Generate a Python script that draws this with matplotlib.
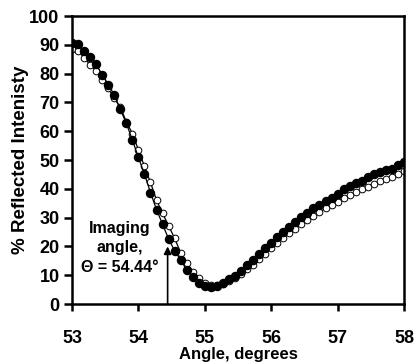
import numpy as np
import matplotlib
matplotlib.use("Agg")
import matplotlib.pyplot as plt

plt.rcParams['font.family'] = ['Liberation Sans', 'DejaVu Sans']
plt.rcParams['font.weight'] = 'bold'

# Data (56 points, 53 to 58 degrees)
angle_start = 53.0
angle_end = 58.0
filled_vals = [90.5, 90.2, 88.0, 85.9, 83.3, 79.5, 76.2, 72.6, 67.6, 62.7,
               57.0, 50.9, 45.1, 38.7, 32.8, 27.7, 22.6, 18.5, 15.3, 11.8,
               9.5, 7.2, 6.2, 5.8, 6.2, 7.2, 8.6, 9.7, 11.6, 13.4,
               15.3, 17.4, 19.3, 21.3, 23.4, 25.1, 26.8, 28.6, 30.3, 31.7,
               33.2, 34.4, 35.6, 36.7, 38.2, 40.0, 41.0, 41.9, 42.7, 44.0,
               45.3, 46.0, 46.5, 47.0, 48.4, 49.4]
open_vals = [88.6, 87.8, 85.5, 83.0, 80.8, 77.8, 75.0, 71.4, 68.3, 63.3,
             59.2, 53.5, 47.8, 42.2, 36.1, 31.5, 27.2, 22.8, 17.8, 14.3,
             11.2, 8.9, 7.4, 6.6, 6.5, 7.0, 8.0, 8.9, 10.4, 12.0,
             13.7, 15.6, 17.4, 19.3, 21.3, 22.9, 24.5, 26.2, 27.8, 29.2,
             30.6, 31.9, 33.2, 34.4, 35.5, 36.8, 37.9, 38.9, 39.8, 40.8,
             41.8, 42.6, 43.4, 44.2, 45.1, 46.1]
angles = np.linspace(angle_start, angle_end, len(filled_vals))

imaging_angle = 54.44
arrow_top = 20.0
annot_text = "Imaging\nangle,\n\u0398 = 54.44\u00b0"

x_ticks = [53, 54, 55, 56, 57, 58]
y_ticks = [0, 10, 20, 30, 40, 50, 60, 70, 80, 90, 100]

fig = plt.figure(figsize=(4.17, 3.62), dpi=100)
ax = fig.add_axes([0.1727, 0.1602, 0.7961, 0.7956])

ax.plot(angles, open_vals, '-', color='black', lw=0.9,
        marker='o', markersize=4.8, markerfacecolor='white',
        markeredgecolor='black', markeredgewidth=0.7, zorder=2)
ax.plot(angles, filled_vals, '-', color='black', lw=0.9,
        marker='o', markersize=5.8, markerfacecolor='black',
        markeredgecolor='black', zorder=3)

ax.annotate('', xy=(imaging_angle, arrow_top), xytext=(imaging_angle, 0),
            arrowprops=dict(arrowstyle='-|>', lw=1.2, color='black',
                            mutation_scale=11, shrinkA=0, shrinkB=0))
ax.text(53.72, 19.5, annot_text, ha='center', va='center',
        fontsize=11.5, fontweight='bold', linespacing=1.4)

ax.set_xlim(53, 58)
ax.set_ylim(0, 100)
ax.set_xticks(x_ticks)
ax.set_yticks(y_ticks)
ax.set_xticklabels([str(t) for t in x_ticks])
ax.set_yticklabels([str(t) for t in y_ticks])

for s in ax.spines.values():
    s.set_linewidth(1.8)

ax.tick_params(axis='x', direction='out', length=5, width=1.8, pad=14,
               labelsize=13)
ax.tick_params(axis='y', direction='out', length=6, width=1.8, pad=3,
               labelsize=13)
for lab in ax.get_xticklabels() + ax.get_yticklabels():
    lab.set_fontweight('bold')

fig.text(0.571, 0.5 / 362, 'Angle, degrees', ha='center', va='bottom',
         fontsize=12, fontweight='bold')
ax.set_ylabel('% Reflected Intenisty', fontsize=13.5, fontweight='bold')
ax.yaxis.set_label_coords(-43.0 / 332.0, 0.5)

fig.savefig('out.png', dpi=100)
